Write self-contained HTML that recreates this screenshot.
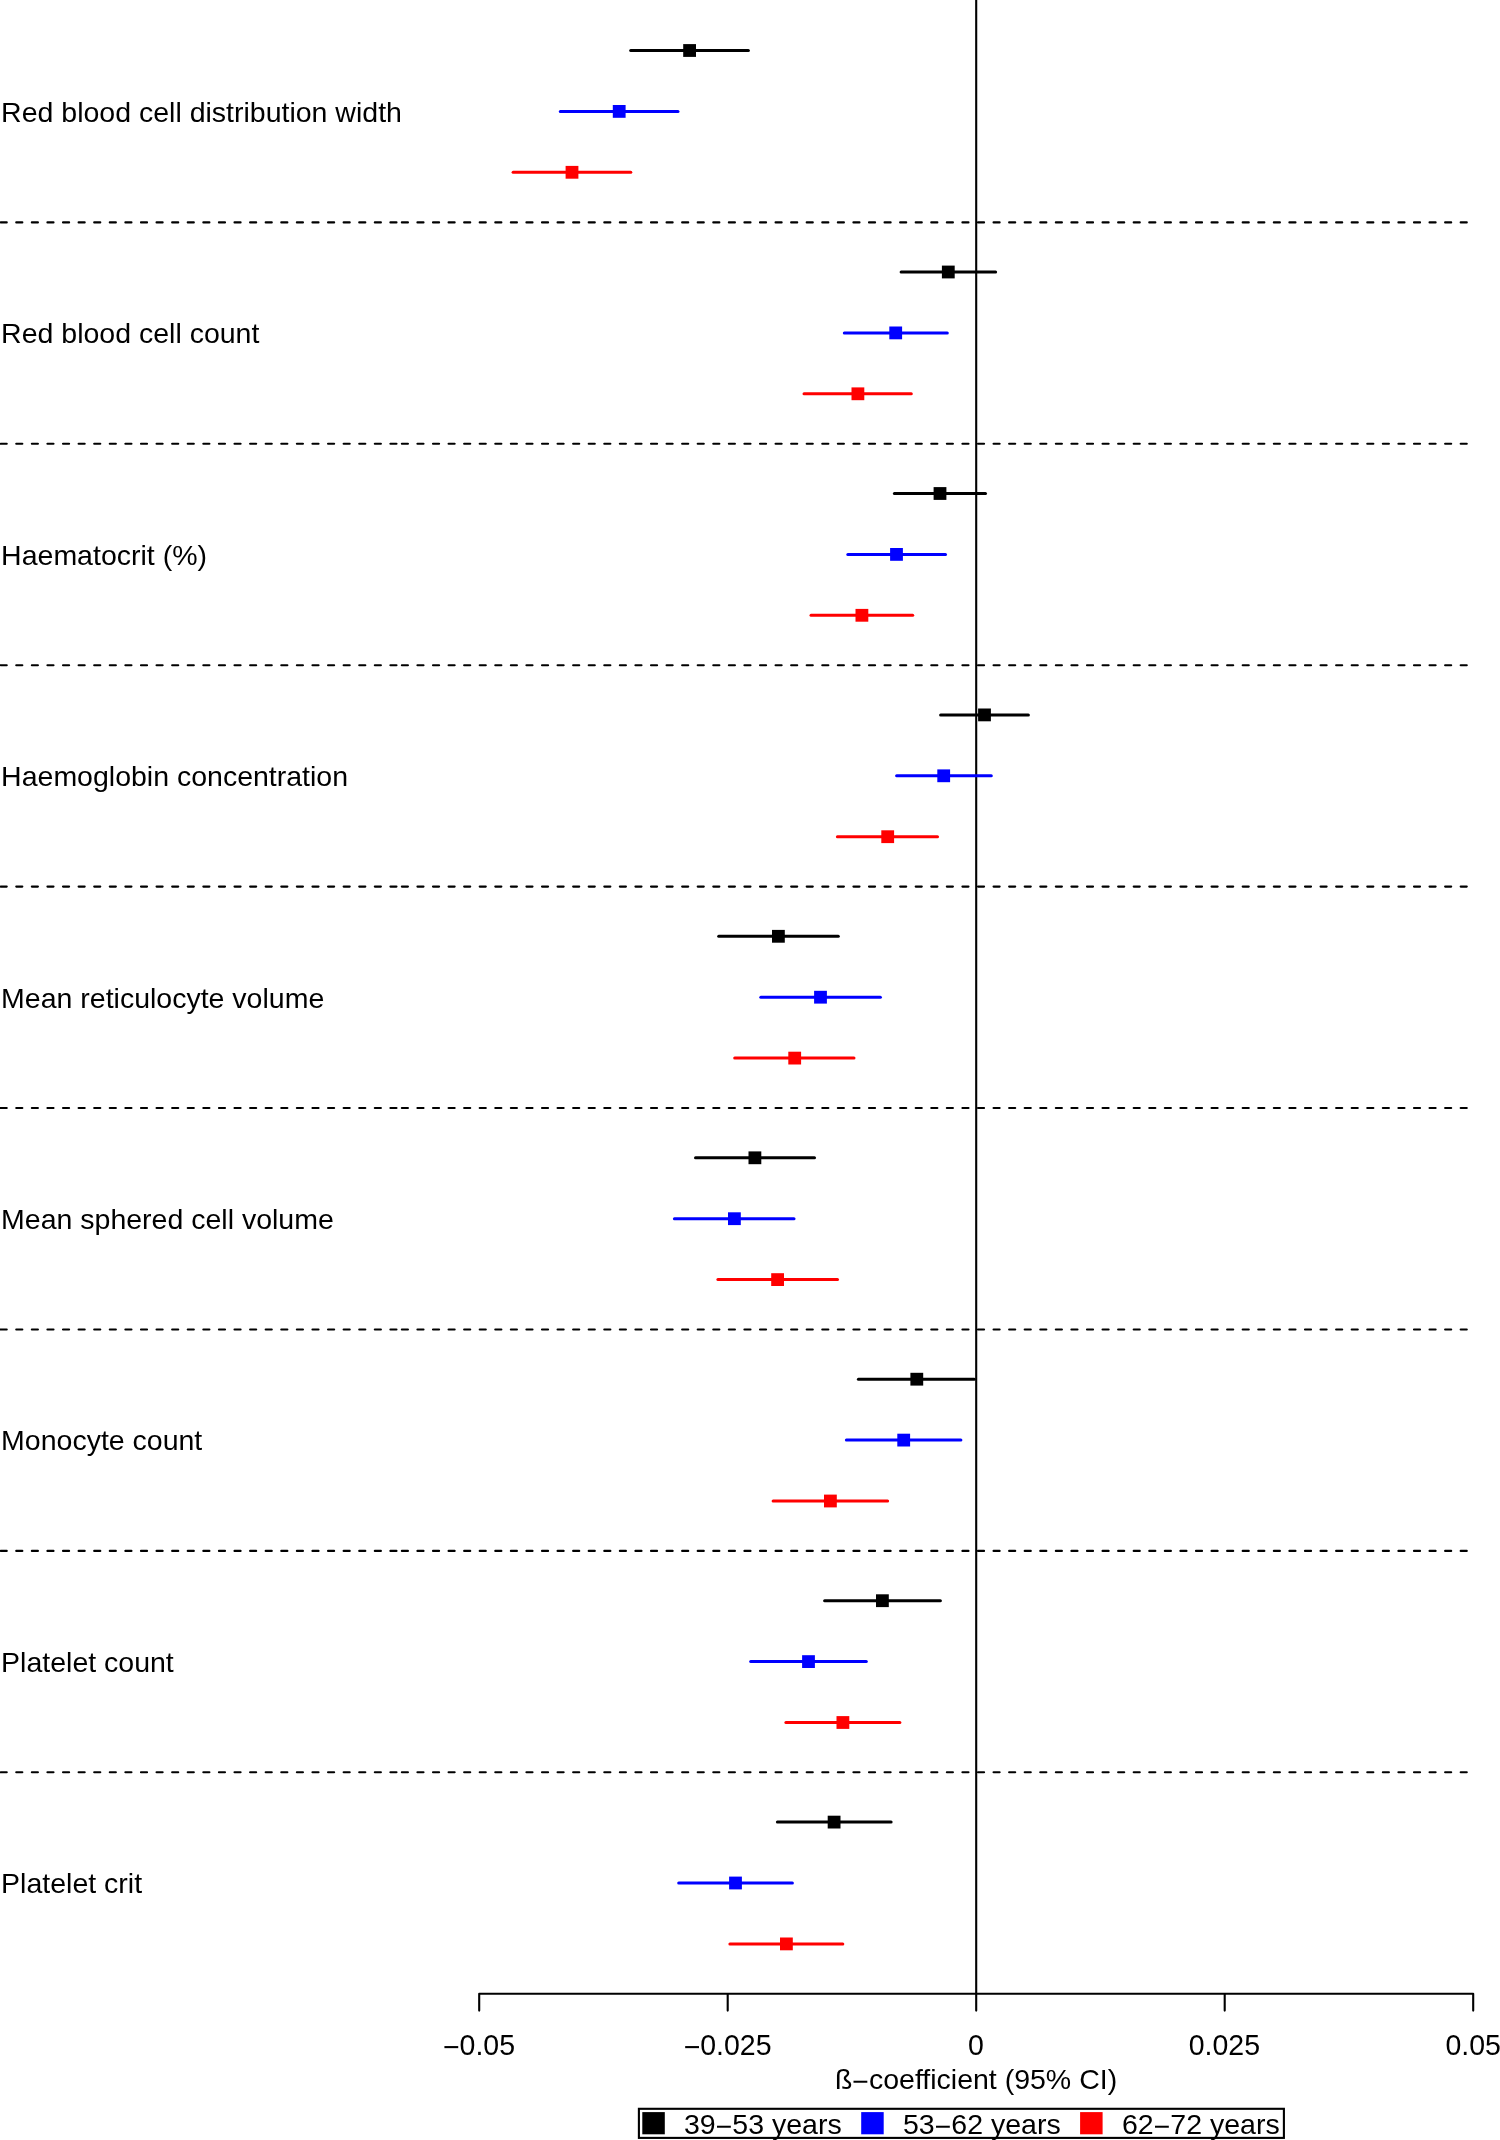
<!DOCTYPE html>
<html><head><meta charset="utf-8"><title>Forest plot</title>
<style>
html,body{margin:0;padding:0;background:#fff;}
body{width:1500px;height:2140px;overflow:hidden;}
svg{display:block;will-change:transform;}
text{font-family:"Liberation Sans",sans-serif;fill:#000;}
</style></head><body>
<svg width="1500" height="2140" viewBox="0 0 1500 2140">
<rect x="0" y="0" width="1500" height="2140" fill="#fff"/>

<line x1="0.65" y1="222.4" x2="396.8" y2="222.4" stroke="#000" stroke-width="2.1" stroke-dasharray="6.1 9.49" stroke-linecap="round"/>
<line x1="401.85" y1="222.4" x2="1467" y2="222.4" stroke="#000" stroke-width="2.1" stroke-dasharray="6.1 9.471" stroke-linecap="round"/>
<line x1="0.65" y1="443.8" x2="396.8" y2="443.8" stroke="#000" stroke-width="2.1" stroke-dasharray="6.1 9.49" stroke-linecap="round"/>
<line x1="401.85" y1="443.8" x2="1467" y2="443.8" stroke="#000" stroke-width="2.1" stroke-dasharray="6.1 9.471" stroke-linecap="round"/>
<line x1="0.65" y1="665.2" x2="396.8" y2="665.2" stroke="#000" stroke-width="2.1" stroke-dasharray="6.1 9.49" stroke-linecap="round"/>
<line x1="401.85" y1="665.2" x2="1467" y2="665.2" stroke="#000" stroke-width="2.1" stroke-dasharray="6.1 9.471" stroke-linecap="round"/>
<line x1="0.65" y1="886.6" x2="396.8" y2="886.6" stroke="#000" stroke-width="2.1" stroke-dasharray="6.1 9.49" stroke-linecap="round"/>
<line x1="401.85" y1="886.6" x2="1467" y2="886.6" stroke="#000" stroke-width="2.1" stroke-dasharray="6.1 9.471" stroke-linecap="round"/>
<line x1="0.65" y1="1108.0" x2="396.8" y2="1108.0" stroke="#000" stroke-width="2.1" stroke-dasharray="6.1 9.49" stroke-linecap="round"/>
<line x1="401.85" y1="1108.0" x2="1467" y2="1108.0" stroke="#000" stroke-width="2.1" stroke-dasharray="6.1 9.471" stroke-linecap="round"/>
<line x1="0.65" y1="1329.5" x2="396.8" y2="1329.5" stroke="#000" stroke-width="2.1" stroke-dasharray="6.1 9.49" stroke-linecap="round"/>
<line x1="401.85" y1="1329.5" x2="1467" y2="1329.5" stroke="#000" stroke-width="2.1" stroke-dasharray="6.1 9.471" stroke-linecap="round"/>
<line x1="0.65" y1="1550.9" x2="396.8" y2="1550.9" stroke="#000" stroke-width="2.1" stroke-dasharray="6.1 9.49" stroke-linecap="round"/>
<line x1="401.85" y1="1550.9" x2="1467" y2="1550.9" stroke="#000" stroke-width="2.1" stroke-dasharray="6.1 9.471" stroke-linecap="round"/>
<line x1="0.65" y1="1772.3" x2="396.8" y2="1772.3" stroke="#000" stroke-width="2.1" stroke-dasharray="6.1 9.49" stroke-linecap="round"/>
<line x1="401.85" y1="1772.3" x2="1467" y2="1772.3" stroke="#000" stroke-width="2.1" stroke-dasharray="6.1 9.471" stroke-linecap="round"/>
<line x1="976.2" y1="-2" x2="976.2" y2="2010.6" stroke="#000" stroke-width="2.1" stroke-linecap="round"/>
<path d="M479.2,2010.6 V1993.8 H1473.2 V2010.6 M727.7,1993.8 V2010.6 M1224.7,1993.8 V2010.6" fill="none" stroke="#000" stroke-width="2.1" stroke-linecap="round" stroke-linejoin="round"/>
<text transform="translate(479,2055) scale(1,1.045)" x="0" y="0" font-size="28.5" text-anchor="middle"><tspan dy="2.0">−</tspan><tspan dy="-2.0">0.05</tspan></text>
<text transform="translate(727.6,2055) scale(1,1.045)" x="0" y="0" font-size="28.5" text-anchor="middle"><tspan dy="2.0">−</tspan><tspan dy="-2.0">0.025</tspan></text>
<text transform="translate(976,2055) scale(1,1.045)" x="0" y="0" font-size="28.5" text-anchor="middle">0</text>
<text transform="translate(1224.4,2055) scale(1,1.045)" x="0" y="0" font-size="28.5" text-anchor="middle">0.025</text>
<text transform="translate(1473.2,2055) scale(1,1.045)" x="0" y="0" font-size="28.5" text-anchor="middle">0.05</text>
<text x="976" y="2089" font-size="28.5" text-anchor="middle">ß<tspan dy="1.7">−</tspan><tspan dy="-1.7">coefficient (95% CI)</tspan></text>
<text x="1.1" y="121.8" font-size="28.5">Red blood cell distribution width</text>
<line x1="630.7" y1="50.5" x2="748.4" y2="50.5" stroke="#000000" stroke-width="3.0" stroke-linecap="round"/>
<rect x="683.2" y="44.1" width="12.8" height="12.8" fill="#000000"/>
<line x1="560.3" y1="111.4" x2="678.0" y2="111.4" stroke="#0000ff" stroke-width="3.0" stroke-linecap="round"/>
<rect x="612.8" y="105.0" width="12.8" height="12.8" fill="#0000ff"/>
<line x1="513.1" y1="172.3" x2="630.8" y2="172.3" stroke="#ff0000" stroke-width="3.0" stroke-linecap="round"/>
<rect x="565.6" y="165.9" width="12.8" height="12.8" fill="#ff0000"/>
<text x="1.1" y="343.2" font-size="28.5">Red blood cell count</text>
<line x1="901.1" y1="272.0" x2="995.6" y2="272.0" stroke="#000000" stroke-width="3.0" stroke-linecap="round"/>
<rect x="941.9" y="265.6" width="12.8" height="12.8" fill="#000000"/>
<line x1="844.3" y1="332.9" x2="947.3" y2="332.9" stroke="#0000ff" stroke-width="3.0" stroke-linecap="round"/>
<rect x="889.3" y="326.5" width="12.8" height="12.8" fill="#0000ff"/>
<line x1="804.0" y1="393.8" x2="911.3" y2="393.8" stroke="#ff0000" stroke-width="3.0" stroke-linecap="round"/>
<rect x="851.5" y="387.4" width="12.8" height="12.8" fill="#ff0000"/>
<text x="1.1" y="564.6" font-size="28.5">Haematocrit (%)</text>
<line x1="894.4" y1="493.4" x2="985.5" y2="493.4" stroke="#000000" stroke-width="3.0" stroke-linecap="round"/>
<rect x="933.6" y="487.1" width="12.8" height="12.8" fill="#000000"/>
<line x1="847.8" y1="554.4" x2="945.5" y2="554.4" stroke="#0000ff" stroke-width="3.0" stroke-linecap="round"/>
<rect x="890.1" y="548.0" width="12.8" height="12.8" fill="#0000ff"/>
<line x1="811.0" y1="615.2" x2="912.7" y2="615.2" stroke="#ff0000" stroke-width="3.0" stroke-linecap="round"/>
<rect x="855.5" y="608.9" width="12.8" height="12.8" fill="#ff0000"/>
<text x="1.1" y="786.1" font-size="28.5">Haemoglobin concentration</text>
<line x1="940.6" y1="714.9" x2="1028.4" y2="714.9" stroke="#000000" stroke-width="3.0" stroke-linecap="round"/>
<rect x="978.1" y="708.5" width="12.8" height="12.8" fill="#000000"/>
<line x1="896.6" y1="775.8" x2="991.3" y2="775.8" stroke="#0000ff" stroke-width="3.0" stroke-linecap="round"/>
<rect x="937.3" y="769.4" width="12.8" height="12.8" fill="#0000ff"/>
<line x1="837.4" y1="836.7" x2="937.5" y2="836.7" stroke="#ff0000" stroke-width="3.0" stroke-linecap="round"/>
<rect x="881.3" y="830.3" width="12.8" height="12.8" fill="#ff0000"/>
<text x="1.1" y="1007.5" font-size="28.5">Mean reticulocyte volume</text>
<line x1="718.7" y1="936.3" x2="838.3" y2="936.3" stroke="#000000" stroke-width="3.0" stroke-linecap="round"/>
<rect x="772.0" y="929.9" width="12.8" height="12.8" fill="#000000"/>
<line x1="760.8" y1="997.2" x2="880.4" y2="997.2" stroke="#0000ff" stroke-width="3.0" stroke-linecap="round"/>
<rect x="814.1" y="990.8" width="12.8" height="12.8" fill="#0000ff"/>
<line x1="734.7" y1="1058.1" x2="854.0" y2="1058.1" stroke="#ff0000" stroke-width="3.0" stroke-linecap="round"/>
<rect x="788.3" y="1051.7" width="12.8" height="12.8" fill="#ff0000"/>
<text x="1.1" y="1228.9" font-size="28.5">Mean sphered cell volume</text>
<line x1="695.5" y1="1157.8" x2="814.5" y2="1157.8" stroke="#000000" stroke-width="3.0" stroke-linecap="round"/>
<rect x="748.5" y="1151.4" width="12.8" height="12.8" fill="#000000"/>
<line x1="674.4" y1="1218.7" x2="794.0" y2="1218.7" stroke="#0000ff" stroke-width="3.0" stroke-linecap="round"/>
<rect x="728.0" y="1212.3" width="12.8" height="12.8" fill="#0000ff"/>
<line x1="717.9" y1="1279.6" x2="837.5" y2="1279.6" stroke="#ff0000" stroke-width="3.0" stroke-linecap="round"/>
<rect x="771.2" y="1273.2" width="12.8" height="12.8" fill="#ff0000"/>
<text x="1.1" y="1450.3" font-size="28.5">Monocyte count</text>
<line x1="858.4" y1="1379.2" x2="974.3" y2="1379.2" stroke="#000000" stroke-width="3.0" stroke-linecap="round"/>
<rect x="910.4" y="1372.8" width="12.8" height="12.8" fill="#000000"/>
<line x1="846.4" y1="1440.1" x2="960.9" y2="1440.1" stroke="#0000ff" stroke-width="3.0" stroke-linecap="round"/>
<rect x="897.3" y="1433.7" width="12.8" height="12.8" fill="#0000ff"/>
<line x1="773.1" y1="1501.0" x2="887.6" y2="1501.0" stroke="#ff0000" stroke-width="3.0" stroke-linecap="round"/>
<rect x="824.0" y="1494.6" width="12.8" height="12.8" fill="#ff0000"/>
<text x="1.1" y="1671.7" font-size="28.5">Platelet count</text>
<line x1="824.6" y1="1600.7" x2="940.4" y2="1600.7" stroke="#000000" stroke-width="3.0" stroke-linecap="round"/>
<rect x="876.0" y="1594.3" width="12.8" height="12.8" fill="#000000"/>
<line x1="750.7" y1="1661.6" x2="866.3" y2="1661.6" stroke="#0000ff" stroke-width="3.0" stroke-linecap="round"/>
<rect x="802.1" y="1655.2" width="12.8" height="12.8" fill="#0000ff"/>
<line x1="785.9" y1="1722.5" x2="899.9" y2="1722.5" stroke="#ff0000" stroke-width="3.0" stroke-linecap="round"/>
<rect x="836.5" y="1716.1" width="12.8" height="12.8" fill="#ff0000"/>
<text x="1.1" y="1893.2" font-size="28.5">Platelet crit</text>
<line x1="777.4" y1="1822.1" x2="891.1" y2="1822.1" stroke="#000000" stroke-width="3.0" stroke-linecap="round"/>
<rect x="827.7" y="1815.7" width="12.8" height="12.8" fill="#000000"/>
<line x1="678.7" y1="1883.0" x2="792.4" y2="1883.0" stroke="#0000ff" stroke-width="3.0" stroke-linecap="round"/>
<rect x="729.1" y="1876.6" width="12.8" height="12.8" fill="#0000ff"/>
<line x1="729.9" y1="1943.9" x2="842.8" y2="1943.9" stroke="#ff0000" stroke-width="3.0" stroke-linecap="round"/>
<rect x="780.0" y="1937.5" width="12.8" height="12.8" fill="#ff0000"/>
<rect x="638.9" y="2108.8" width="645" height="29.1" fill="#fff" stroke="#000" stroke-width="2.1"/>
<rect x="642.3" y="2112.1" width="22.5" height="22.2" fill="#000000"/>
<text x="684.0" y="2134" font-size="28.5">39<tspan dy="1.7">−</tspan><tspan dy="-1.7">53 years</tspan></text>
<rect x="861.2" y="2112.1" width="22.5" height="22.2" fill="#0000ff"/>
<text x="903.0" y="2134" font-size="28.5">53<tspan dy="1.7">−</tspan><tspan dy="-1.7">62 years</tspan></text>
<rect x="1080.1" y="2112.1" width="22.5" height="22.2" fill="#ff0000"/>
<text x="1122.0" y="2134" font-size="28.5">62<tspan dy="1.7">−</tspan><tspan dy="-1.7">72 years</tspan></text>
</svg></body></html>
